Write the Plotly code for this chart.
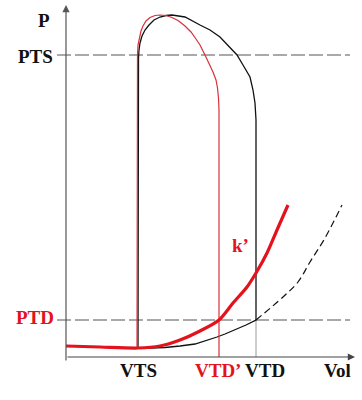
import plotly.graph_objects as go

# ---- data (Vol, P in arbitrary units) ----
black_loop_vol = [72, 72, 72.5, 73, 74, 76, 79, 83, 88, 94, 100, 106, 119, 134, 144, 154, 162,
                  167, 171, 177, 184, 187, 189, 190, 190,
                  180, 169, 159, 151, 139, 129, 114, 99, 84, 72]
black_loop_p = [9, 287, 299, 307, 314, 321, 327, 332, 337, 340, 341.5, 342, 340, 332, 327, 320, 312,
                306, 302, 292, 280, 267, 254, 237, 37,
                32, 27, 23, 20, 16, 13, 11, 9.5, 9, 9]

red_loop_vol = [71, 71, 71.5, 72, 73.5, 75, 77, 80, 84, 89, 94, 100, 106, 112, 119, 125, 130, 134,
                139, 143, 147, 150, 151.5, 152.5, 153, 153]
red_loop_p = [9, 287, 302, 312, 320, 326, 331, 336, 339.5, 341.5, 342, 341.5, 339.5, 336.5, 331, 325, 318, 312,
              302, 294, 285, 277, 269, 259, 247, 0]

k_vol = [0, 34, 72, 94, 114, 134, 153, 167, 181, 190, 201, 211, 222]
k_p = [11, 10, 9, 11, 17, 26, 37, 54, 70, 84, 104, 127, 152]

edpvr_vol = [190, 217, 232, 244, 259, 276]
edpvr_p = [37, 60, 75, 95, 119, 152]

PTS = 302
PTD = 37
VTS = 72
VTD_prime = 153
VTD = 190

RED = "#e3121c"
FONT = "Liberation Serif"

fig = go.Figure()

# reference dashed lines PTS / PTD
for yv in [PTS, PTD]:
    fig.add_trace(go.Scatter(x=[-9, 284], y=[yv, yv], mode="lines",
                             line=dict(color="#555555", width=1.2, dash="14px,4px"),
                             hoverinfo="skip", showlegend=False))

# grey drop line at VTD
fig.add_trace(go.Scatter(x=[VTD, VTD], y=[PTD, 0], mode="lines",
                         line=dict(color="#9a9a9a", width=1), showlegend=False))

# dashed EDPVR continuation
fig.add_trace(go.Scatter(x=edpvr_vol, y=edpvr_p, mode="lines", line_shape="spline",
                         line=dict(color="#111111", width=1.2, dash="7px,4px"), showlegend=False))

# black PV loop
fig.add_trace(go.Scatter(x=black_loop_vol, y=black_loop_p, mode="lines",
                         line=dict(color="#111111", width=1.3), showlegend=False))

# red PV loop
fig.add_trace(go.Scatter(x=red_loop_vol, y=red_loop_p, mode="lines",
                         line=dict(color="#d8303a", width=1.2), showlegend=False))

# thick red k' curve
fig.add_trace(go.Scatter(x=k_vol, y=k_p, mode="lines", line_shape="spline",
                         line=dict(color=RED, width=3.2, smoothing=0.8), showlegend=False))

anns = []
# axes with arrows
anns.append(dict(x=289, y=0, ax=0, ay=0, xref="x", yref="y", axref="x", ayref="y",
                 showarrow=True, arrowhead=2, arrowsize=1.2, arrowwidth=1.2, arrowcolor="#444444", text=""))
anns.append(dict(x=0, y=352, ax=0, ay=-5, xref="x", yref="y", axref="x", ayref="y",
                 showarrow=True, arrowhead=2, arrowsize=1.2, arrowwidth=1.2, arrowcolor="#555555", text=""))

def lab(x, y, t, color="#111111"):
    anns.append(dict(x=x, y=y, xref="x", yref="y", text=t, showarrow=False,
                     font=dict(family=FONT, size=19, color=color), xanchor="center", yanchor="middle"))

lab(-22, 337, "<b>P</b>")
lab(-31, PTS - 1, "<b>PTS</b>")
lab(-31, PTD + 3, "<b>PTD</b>", RED)
lab(VTS, -13, "<b>VTS</b>")
lab(VTD_prime - 1, -13, "<b>VTD’</b>", RED)
lab(VTD + 9, -13, "<b>VTD</b>")
lab(271, -13, "<b>Vol</b>")
lab(174, 112, "<b>k’</b>", RED)

fig.update_layout(
    width=362, height=400,
    margin=dict(l=0, r=0, t=0, b=0),
    paper_bgcolor="white", plot_bgcolor="white",
    xaxis=dict(range=[-66, 296], visible=False, fixedrange=True),
    yaxis=dict(range=[-43, 357], visible=False, fixedrange=True),
    annotations=anns,
    showlegend=False,
)

fig.write_html("out.html", config={"displayModeBar": False},
               post_script="document.body.style.margin='0px';")
